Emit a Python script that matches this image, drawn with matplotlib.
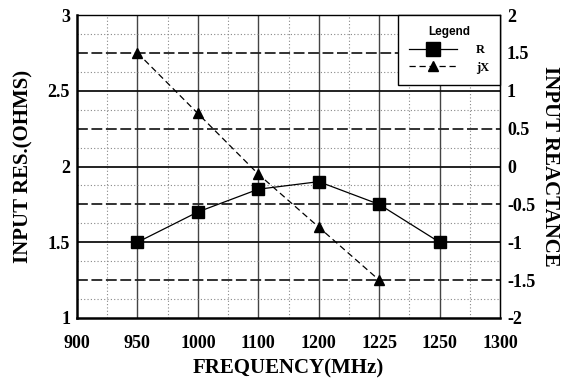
import numpy as np
import matplotlib
matplotlib.use('Agg')
import matplotlib.pyplot as plt

# category labels on the x axis (equally spaced)
freq_labels = ['900', '950', '1000', '1100', '1200', '1225', '1250', '1300']

# input resistance (left axis)
r_freq = ['950', '1000', '1100', '1200', '1225', '1250']
r_vals = [1.5, 1.7, 1.85, 1.9, 1.75, 1.5]

# input reactance (right axis)
x_freq = ['950', '1000', '1100', '1200', '1225']
x_vals = [1.5, 0.7, -0.1, -0.8, -1.5]

left_ticks = [1, 1.5, 2, 2.5, 3]
right_ticks = [-2, -1.5, -1, -0.5, 0, 0.5, 1, 1.5, 2]

serif = 'Liberation Serif'

fig = plt.figure(figsize=(5.77, 3.81), dpi=100)
ax = fig.add_axes([77 / 577, 1 - 318 / 381, 423 / 577, 303 / 381])
ax2 = ax.twinx()

n = len(freq_labels)
ax.set_xlim(0, n - 1)
ax.set_ylim(1, 3)
ax2.set_ylim(-2, 2)

# grid
for xv in range(1, n - 1):
    ax.axvline(xv, color='#444444', lw=1.0, zorder=1)
for xv in np.arange(0.5, n - 1, 1):
    ax.axvline(xv, color='#888888', lw=0.8, ls=(0, (1, 2)), zorder=1)
for yv in left_ticks[1:-1]:
    ax.axhline(yv, color='#111111', lw=1.3, zorder=1)
for yv in np.arange(1.25, 3, 0.5):
    ax.axhline(yv, color='#222222', lw=1.3, ls=(0, (6, 2)), zorder=1)
for yv in np.arange(1.125, 3, 0.25):
    ax.axhline(yv, color='#888888', lw=0.8, ls=(0, (1, 2)), zorder=1)

xi_r = [freq_labels.index(f) for f in r_freq]
xi_x = [freq_labels.index(f) for f in x_freq]

l1, = ax.plot(xi_r, r_vals, color='black', lw=0.9, marker='s', ms=8.5, zorder=3, label='R')
l2, = ax2.plot(xi_x, x_vals, color='black', lw=0.9, ls=(0, (5, 3)), marker='^', ms=6.5, zorder=3, label='jX')

ax.set_xticks(range(n))
ax.set_xticklabels(freq_labels)
ax.set_yticks(left_ticks)
ax.set_yticklabels(['1', '1.5', '2', '2.5', '3'])
ax2.set_yticks(right_ticks)
ax2.set_yticklabels(['-2', '-1.5', '-1', '-0.5', '0', '0.5', '1', '1.5', '2'])

for a in (ax, ax2):
    a.tick_params(length=0, pad=5)
    for lab in a.get_xticklabels() + a.get_yticklabels():
        lab.set_fontfamily(serif)
        lab.set_fontweight('bold')
        lab.set_fontsize(13)
ax.tick_params(axis='x', pad=12)

ax.spines['left'].set_linewidth(1.8)
ax.spines['bottom'].set_linewidth(1.8)
ax.spines['top'].set_linewidth(1.0)
ax2.spines['right'].set_linewidth(1.0)
ax2.spines['left'].set_visible(False)
ax2.spines['bottom'].set_visible(False)
ax2.spines['top'].set_visible(False)

ax.set_xlabel('FREQUENCY(MHz)', fontfamily=serif, fontweight='bold', fontsize=15, labelpad=5)
ax.set_ylabel('INPUT RES.(OHMS)', fontfamily=serif, fontweight='bold', fontsize=15, labelpad=10)
ax2.set_ylabel('INPUT REACTANCE', fontfamily=serif, fontweight='bold', fontsize=15, rotation=270, labelpad=18)

leg = ax2.legend(handles=[l1, l2], loc='upper right', bbox_to_anchor=(1.0, 1.0),
                 fancybox=False, framealpha=1, edgecolor='black', borderaxespad=0,
                 handlelength=3.8, handletextpad=1.5, labelspacing=0.45, borderpad=0.9,
                 markerscale=1.2,
                 prop={'family': serif, 'weight': 'bold', 'size': 9})
leg.set_title('Legend', prop={'family': 'Liberation Sans', 'weight': 'bold', 'size': 8.5})
leg.get_frame().set_linewidth(1.0)

fig.savefig('out.png', dpi=100)
